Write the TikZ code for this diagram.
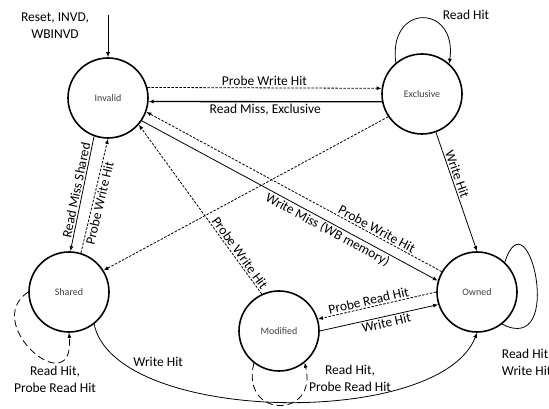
\documentclass[tikz,border=0pt]{standalone}
\usepackage{fontspec}
\setmainfont{Carlito}
\usetikzlibrary{arrows.meta,positioning}

\begin{document}
\begin{tikzpicture}[x=1pt, y=1pt, >={Latex[length=5pt,width=4pt]}, line width=0.8pt,
    state/.style={draw, circle, line width=1.6pt, minimum size=80pt, inner sep=0pt,
      font=\fontsize{10}{12}\selectfont, text=black!75},
    lbl/.style={font=\fontsize{13.5}{17}\selectfont, inner sep=1.5pt},
    probe/.style={dash pattern=on 2.5pt off 1.5pt},
    loopdash/.style={dash pattern=on 7pt off 4pt}]
\useasboundingbox (0,0) rectangle (549,409);
\node[state] (inv) at (108,311) {Invalid};
\node[state] (exc) at (422,315) {Exclusive};
\node[state] (sha) at (69,117) {Shared};
\node[state] (mod) at (279,78) {Modified};
\node[state] (own) at (477,117) {Owned};

% entry
\coordinate (reset) at (108,394);
\node[lbl, align=center] (rstlbl) at (55,383) {Reset, INVD,\\WBINVD};
\draw[->] (reset) -- (inv);

% invalid / exclusive
\draw[->, probe] (inv.15) -- node[lbl, above] (pwh1) {Probe Write Hit} (exc.172);
\draw[->, line width=1.3pt] (exc.191) -- node[lbl, below] (rme) {Read Miss, Exclusive} (inv.-5);
\draw[->] (exc.130) .. controls +(-8,60) and +(8,60) .. (exc.48);
\node[lbl] (rh1) at (466,394) {Read Hit};
\draw[->] (exc.-70) -- node[lbl, sloped, above, pos=0.37] (wh1) {Write Hit} (own.north);
\draw[->, probe] (exc.214) -- (sha.32);

% invalid / shared
\draw[->] (inv.250) -- node[lbl, sloped, above, pos=0.48] (rms) {Read Miss Shared} (sha.88);
\draw[->, probe] (sha.73) -- node[lbl, sloped, below, pos=0.45] (pwh2) {Probe Write Hit} (inv.270);

% invalid / modified / owned
\draw[->, probe] (mod.115) -- node[lbl, sloped, above, pos=0.22] (pwh3) {Probe Write Hit} (inv.-41);
\draw[->, probe] (own.150) -- node[lbl, sloped, above, pos=0.23] (pwh4) {Probe Write Hit} (inv.-20);
\draw[->] (inv.-34) -- node[lbl, sloped, below, pos=0.64] (wmm) {Write Miss (WB memory)} (own.164);
\draw[->, probe] (own.180) -- node[lbl, sloped, above, pos=0.56] (prh1) {Probe Read Hit} (mod.17);
\draw[->] (mod.0) -- node[lbl, sloped, below, pos=0.55] (wh2) {Write Hit} (own.198);
\draw[->] (sha.-52) .. controls (115,-15) and (440,-20) .. node[lbl, pos=0.18, above right] (wh3) {Write Hit} (own.-90);

% self loops
\draw[->, loopdash] (sha.180) .. controls (-20,85) and (75,5) .. (sha.270);
\node[lbl, align=center] (shalbl) at (55,30) {Read Hit,\\Probe Read Hit};
\draw[->, loopdash] (mod.232) .. controls (240,-10) and (318,-10) .. (mod.-51);
\node[lbl, align=center] (modlbl) at (350,31) {Read Hit,\\Probe Read Hit};
\draw (own.47) .. controls (528,218) and (566,52) .. (own.-52);
\node[lbl, align=left, anchor=west] (ownlbl) at (500,47) {Read Hit\\Write Hit};
\end{tikzpicture}
\end{document}
